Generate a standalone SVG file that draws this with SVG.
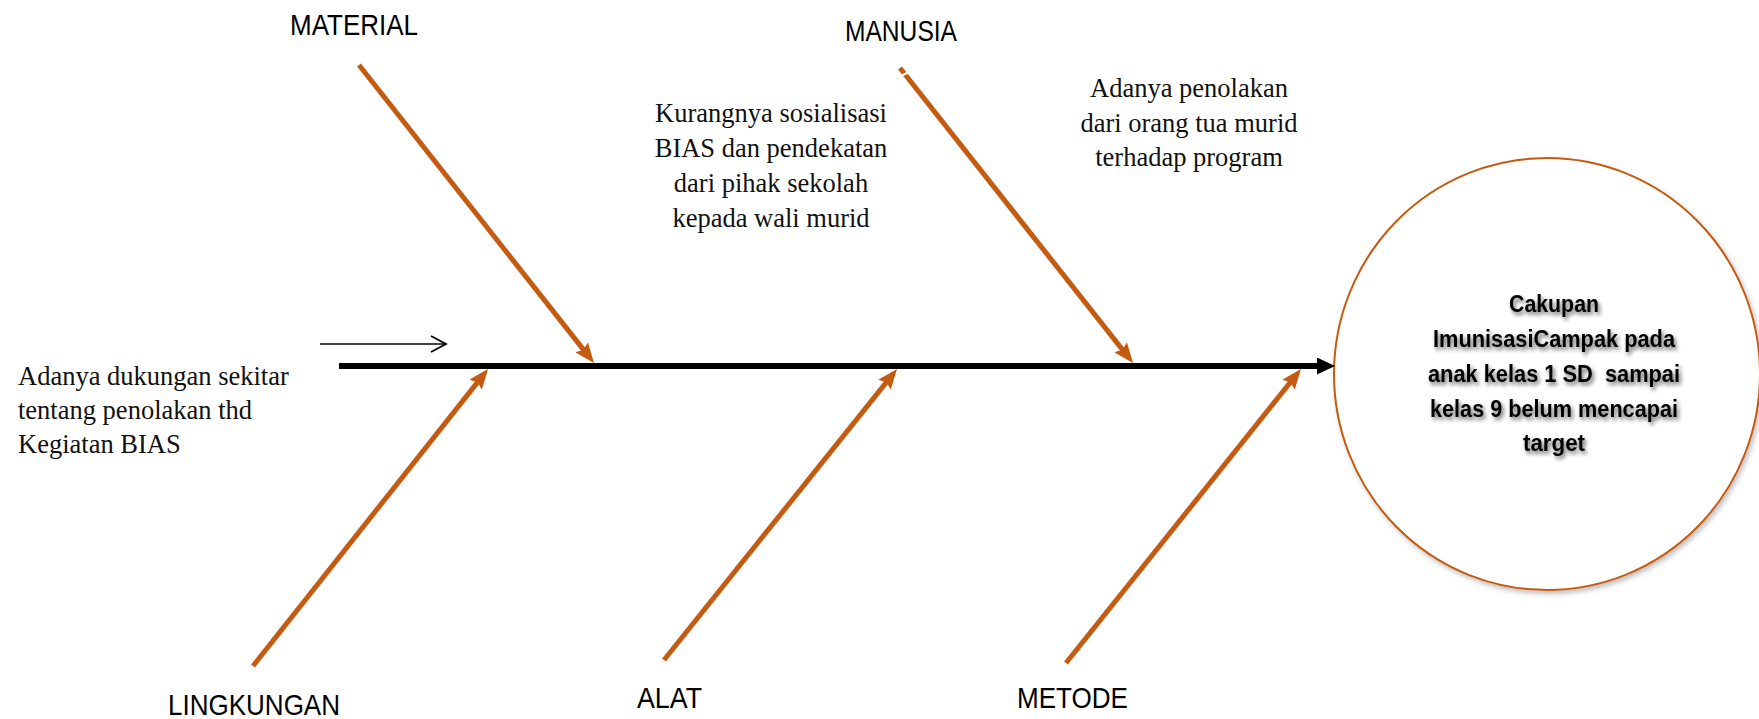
<svg xmlns="http://www.w3.org/2000/svg" width="1759" height="719" viewBox="0 0 1759 719">
  <style>
    .bone { stroke: #C55A11; stroke-width: 5; fill: none; marker-end: url(#headOrange); }
    .cat { font-family: "Liberation Sans", Arial, sans-serif; font-size: 30px; fill: #000; }
    .cause { font-family: "Liberation Serif", "Times New Roman", serif; font-size: 26.5px; fill: #111; }
    .effect { font-family: "Liberation Sans", Arial, sans-serif; font-size: 24px; font-weight: bold; fill: #000; text-anchor: middle; }
  </style>
  <defs>
    <marker id="headOrange" markerUnits="userSpaceOnUse" markerWidth="20" markerHeight="16" refX="8" refY="8" orient="auto">
      <path d="M0,0 L20,8 L0,16 L3,8 z" fill="#C55A11"/>
    </marker>
    <marker id="headBlack" markerUnits="userSpaceOnUse" markerWidth="18" markerHeight="17" refX="6" refY="8.5" orient="auto">
      <path d="M0,0 L18,8.5 L0,17 z" fill="#000"/>
    </marker>
    <filter id="textShadow" x="-10%" y="-30%" width="120%" height="160%">
      <feDropShadow dx="2" dy="3" stdDeviation="2.2" flood-color="#000" flood-opacity="0.6"/>
    </filter>
    <filter id="ovalShadow" x="-10%" y="-10%" width="120%" height="120%">
      <feDropShadow dx="2" dy="3" stdDeviation="2.5" flood-color="#000" flood-opacity="0.25"/>
    </filter>
  </defs>

  <rect width="1759" height="719" fill="#fff"/>

  <!-- effect oval -->
  <g id="effect">
    <ellipse cx="1547" cy="374" rx="213" ry="216" fill="#fff" stroke="#C55A11" stroke-width="2" filter="url(#ovalShadow)"/>
    <g filter="url(#textShadow)">
      <text class="effect" x="1554" y="312" textLength="90" lengthAdjust="spacingAndGlyphs">Cakupan</text>
      <text class="effect" x="1554" y="347" textLength="242" lengthAdjust="spacingAndGlyphs">ImunisasiCampak pada</text>
      <text class="effect" x="1554" y="382" textLength="252" lengthAdjust="spacingAndGlyphs" xml:space="preserve">anak kelas 1 SD  sampai</text>
      <text class="effect" x="1554" y="417" textLength="248" lengthAdjust="spacingAndGlyphs">kelas 9 belum mencapai</text>
      <text class="effect" x="1554" y="451" textLength="62" lengthAdjust="spacingAndGlyphs">target</text>
    </g>
  </g>

  <!-- spine, bones and the small direction arrow -->
  <g id="connectors">
    <line x1="339" y1="366" x2="1323" y2="366" stroke="#000" stroke-width="6" marker-end="url(#headBlack)"/>
    <line class="bone" x1="359" y1="65" x2="586.6" y2="353.6"/>
    <line class="bone" x1="900" y1="68" x2="1125.6" y2="353.6"/>
    <line class="bone" x1="253" y1="666" x2="480.6" y2="378.4"/>
    <line class="bone" x1="664" y1="660" x2="889.5" y2="378.4"/>
    <line class="bone" x1="1066" y1="663" x2="1293.5" y2="378.4"/>
    <!-- small break near the top of the MANUSIA bone -->
    <line x1="897" y1="78" x2="915" y2="69" stroke="#fff" stroke-width="2"/>
    <line x1="320" y1="344" x2="446" y2="344" stroke="#000" stroke-width="1.5"/>
    <polyline points="431,336 446,344 431,352" fill="none" stroke="#000" stroke-width="1.8"/>
  </g>

  <!-- category labels -->
  <g id="material"><text class="cat" x="290" y="35" textLength="128" lengthAdjust="spacingAndGlyphs">MATERIAL</text></g>
  <g id="manusia"><text class="cat" x="845" y="41" textLength="112" lengthAdjust="spacingAndGlyphs">MANUSIA</text></g>
  <g id="lingkungan"><text class="cat" x="168" y="715" textLength="172" lengthAdjust="spacingAndGlyphs">LINGKUNGAN</text></g>
  <g id="alat"><text class="cat" x="637" y="708" textLength="65" lengthAdjust="spacingAndGlyphs">ALAT</text></g>
  <g id="metode"><text class="cat" x="1017" y="708" textLength="111" lengthAdjust="spacingAndGlyphs">METODE</text></g>

  <!-- cause notes -->
  <g id="cause-lingkungan">
    <text class="cause" x="18" y="385">Adanya dukungan sekitar</text>
    <text class="cause" x="18" y="419">tentang penolakan thd</text>
    <text class="cause" x="18" y="453">Kegiatan BIAS</text>
  </g>
  <g id="cause-sosialisasi" text-anchor="middle">
    <text class="cause" x="771" y="122">Kurangnya sosialisasi</text>
    <text class="cause" x="771" y="157">BIAS dan pendekatan</text>
    <text class="cause" x="771" y="192">dari pihak sekolah</text>
    <text class="cause" x="771" y="227">kepada wali murid</text>
  </g>
  <g id="cause-penolakan" text-anchor="middle">
    <text class="cause" x="1189" y="97">Adanya penolakan</text>
    <text class="cause" x="1189" y="132">dari orang tua murid</text>
    <text class="cause" x="1189" y="166">terhadap program</text>
  </g>
</svg>
